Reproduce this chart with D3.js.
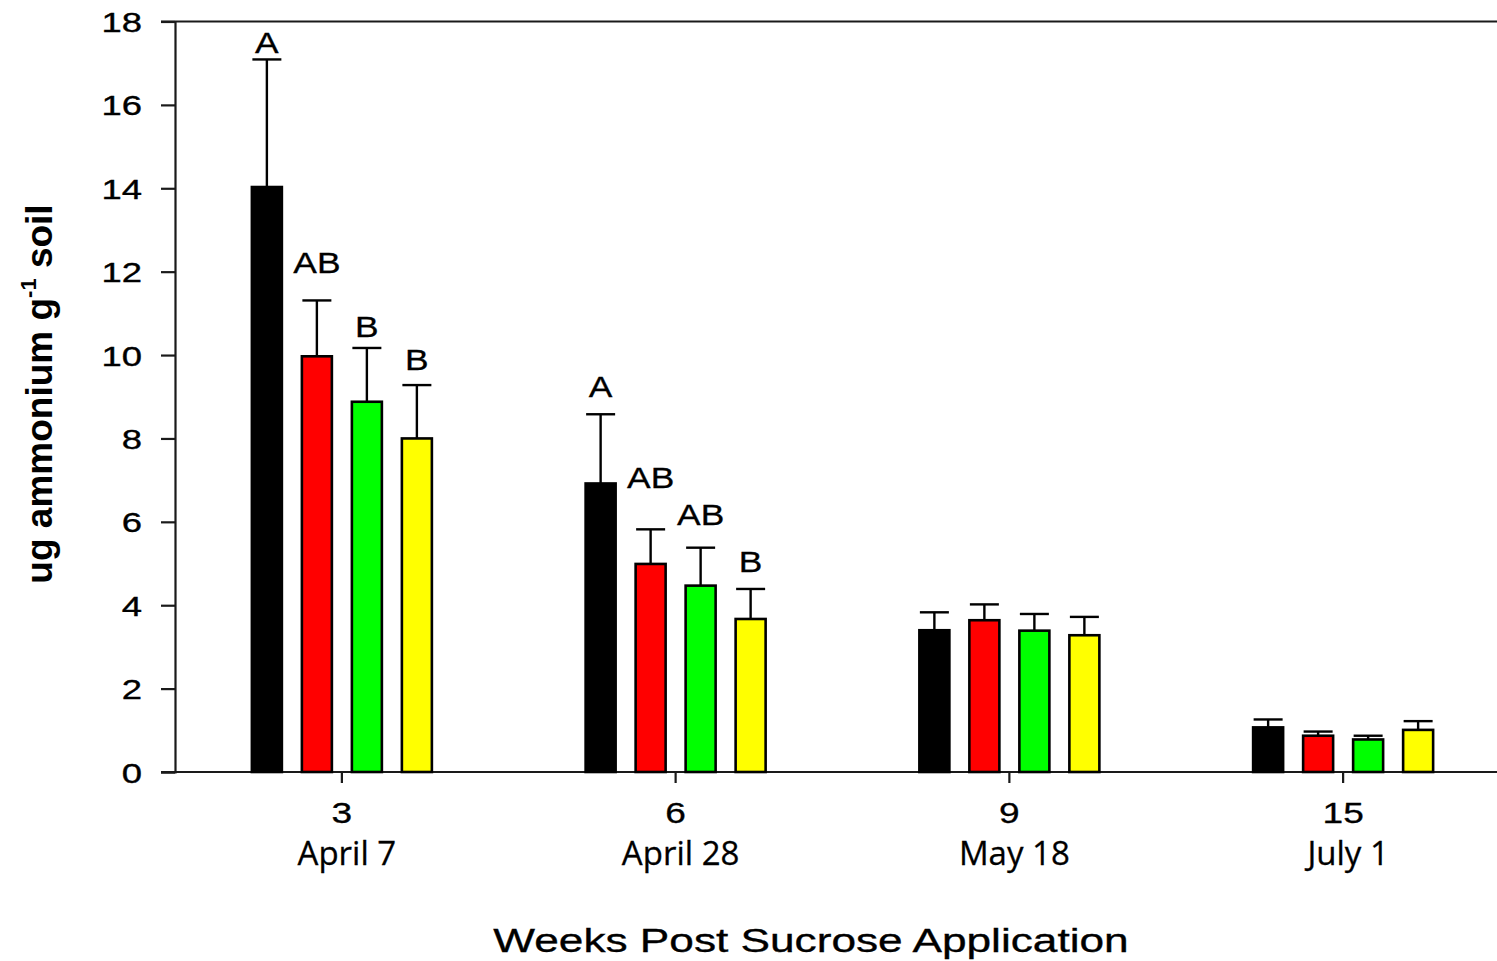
<!DOCTYPE html>
<html>
<head>
<meta charset="utf-8">
<script src="https://cdn.jsdelivr.net/npm/d3@7/dist/d3.min.js"></script>
<style>
  html, body { margin: 0; padding: 0; background: #fff; }
  svg { display: block; }
</style>
</head>
<body>
<svg id="chart" width="1497" height="961"></svg>
<script>
// Sampling weeks after sucrose application and the matching calendar dates
const weeks = ["3", "6", "9", "15"];
const dates = ["April 7", "April 28", "May 18", "July 1"];

// Treatments (bar order within each week) and their fill colours
const treatments = ["T1", "T2", "T3", "T4"];
const colors = ["#000000", "#ff0000", "#00ff00", "#ffff00"];

// Mean soil ammonium (ug g-1 soil) per treatment, one value per week
const meanT1 = [14.03, 6.92, 3.40, 1.07];
const meanT2 = [9.97, 4.99, 3.64, 0.87];
const meanT3 = [8.88, 4.47, 3.39, 0.78];
const meanT4 = [8.00, 3.67, 3.28, 1.01];

// Standard errors (upper bars only)
const seT1 = [3.06, 1.66, 0.43, 0.19];
const seT2 = [1.34, 0.83, 0.38, 0.10];
const seT3 = [1.29, 0.91, 0.40, 0.09];
const seT4 = [1.28, 0.72, 0.44, 0.21];

// Mean-separation letters (weeks 3 and 6) and the level each letter sits at
const lettersWk3 = ["A", "AB", "B", "B"];
const lettersWk6 = ["A", "AB", "AB", "B"];
const letterLevelWk3 = [17.24, 11.98, 10.43, 9.64];
const letterLevelWk6 = [8.99, 6.81, 5.92, 4.79];

// Y axis ticks
const yTicks = [0, 2, 4, 6, 8, 10, 12, 14, 16, 18];

const means = [meanT1, meanT2, meanT3, meanT4];
const ses = [seT1, seT2, seT3, seT4];

const rows = [];
weeks.forEach((w, i) => {
  treatments.forEach((t, j) => {
    rows.push({ week: w, trt: t, idx: j, mean: means[j][i], se: ses[j][i] });
  });
});

const letterRows = [];
[[weeks[0], lettersWk3, letterLevelWk3], [weeks[1], lettersWk6, letterLevelWk6]].forEach(([w, ls, lv]) => {
  ls.forEach((l, j) => letterRows.push({ week: w, trt: treatments[j], text: l, level: lv[j] }));
});

const svg = d3.select("#chart");
const plotLeft = 175, plotRight = 1510, plotTop = 21.5, plotBottom = 772;

const y = d3.scaleLinear().domain([0, 18]).range([plotBottom, plotTop]);
const x0 = d3.scaleBand().domain(weeks).range([plotLeft, plotRight]).padding(0);
const x1 = d3.scaleBand().domain(treatments).range([-100, 100]).paddingInner(0.36).paddingOuter(0.18);
const center = w => x0(w) + x0.bandwidth() / 2;
const barCenter = d => center(d.week) + x1(d.trt) + x1.bandwidth() / 2;

const AXIS = "#1a1a1a";
const WIDE = 1.35;   // horizontal widening of the Arial tick labels
const ARIAL = "'Liberation Sans', Arial, sans-serif";

// Frame: top line and baseline, both running to the right edge
svg.append("line").attr("x1", plotLeft - 14).attr("x2", 1497).attr("y1", y(18)).attr("y2", y(18))
  .attr("stroke", AXIS).attr("stroke-width", 2.2);
svg.append("line").attr("x1", plotLeft - 14).attr("x2", 1497).attr("y1", y(0)).attr("y2", y(0))
  .attr("stroke", AXIS).attr("stroke-width", 2.2);

// Y axis
const yAxis = d3.axisLeft(y).tickValues(yTicks).tickSize(14).tickSizeOuter(14).tickFormat(d3.format("d"));
const yg = svg.append("g").attr("transform", `translate(${plotLeft},0)`).call(yAxis);
yg.select(".domain").attr("stroke", AXIS).attr("stroke-width", 2.2);
yg.selectAll(".tick line").attr("stroke", AXIS).attr("stroke-width", 2.2);
yg.selectAll(".tick text").remove();
yg.selectAll(".tick").append("text")
  .attr("transform", `translate(-33,10) scale(${WIDE},1)`)
  .attr("text-anchor", "end")
  .attr("fill", "#000").attr("stroke", "#000").attr("stroke-width", 0.35)
  .style("font-family", ARIAL)
  .style("font-size", "27px")
  .text(d => d);

// X axis ticks (category centres)
const xAxis = d3.axisBottom(x0).tickSize(11).tickSizeOuter(0).tickFormat("");
const xg = svg.append("g").attr("transform", `translate(0,${plotBottom})`).call(xAxis);
xg.select(".domain").remove();
xg.selectAll(".tick line").attr("stroke", AXIS).attr("stroke-width", 2.2);

// Week numbers
svg.append("g").selectAll("text").data(weeks).join("text")
  .attr("transform", w => `translate(${center(w)},823) scale(1.28,1)`)
  .attr("text-anchor", "middle")
  .attr("stroke", "#000").attr("stroke-width", 0.3)
  .style("font-family", ARIAL)
  .style("font-size", "29px")
  .text(w => w);

// Calendar dates
svg.append("g").selectAll("text").data(weeks).join("text")
  .attr("x", w => center(w) + 5)
  .attr("y", 865)
  .attr("text-anchor", "middle")
  .attr("stroke", "#000").attr("stroke-width", 0.3)
  .style("font-family", "'Open Sans', sans-serif")
  .style("font-size", "33px")
  .text((w, i) => dates[i]);

// Bars
svg.append("g").selectAll("rect").data(rows).join("rect")
  .attr("x", d => center(d.week) + x1(d.trt) + 1)
  .attr("width", x1.bandwidth() - 2)
  .attr("y", d => y(d.mean))
  .attr("height", d => y(0) - y(d.mean))
  .attr("fill", d => colors[d.idx])
  .attr("stroke", "#000")
  .attr("stroke-width", 2.6);

// Upper error bars
const eg = svg.append("g").attr("stroke", "#000").attr("stroke-width", 2.4);
eg.selectAll("line.stem").data(rows).join("line").attr("class", "stem")
  .attr("x1", barCenter).attr("x2", barCenter)
  .attr("y1", d => y(d.mean)).attr("y2", d => y(d.mean + d.se));
eg.selectAll("line.cap").data(rows).join("line").attr("class", "cap")
  .attr("x1", d => barCenter(d) - 14.5).attr("x2", d => barCenter(d) + 14.5)
  .attr("y1", d => y(d.mean + d.se)).attr("y2", d => y(d.mean + d.se));

// Significance letters
svg.append("g").selectAll("text").data(letterRows).join("text")
  .attr("transform", d => `translate(${center(d.week) + x1(d.trt) + x1.bandwidth() / 2},${y(d.level)}) scale(1.22,1)`)
  .attr("text-anchor", "middle")
  .attr("stroke", "#000").attr("stroke-width", 0.3)
  .style("font-family", ARIAL)
  .style("font-size", "29px")
  .text(d => d.text);

// X axis title
svg.append("text")
  .attr("transform", "translate(811,952) scale(1.3,1)")
  .attr("text-anchor", "middle")
  .attr("stroke", "#000").attr("stroke-width", 0.35)
  .style("font-family", ARIAL)
  .style("font-size", "34px")
  .text("Weeks Post Sucrose Application");

// Y axis title with superscript
const yt = svg.append("text")
  .attr("transform", "translate(52,394) rotate(-90)")
  .attr("text-anchor", "middle")
  .style("font-family", ARIAL)
  .style("font-weight", "bold")
  .style("font-size", "37px");
yt.append("tspan").text("ug ammonium g");
yt.append("tspan").attr("dy", -16).style("font-size", "22px").text("-1");
yt.append("tspan").attr("dy", 16).text(" soil");
</script>
</body>
</html>
